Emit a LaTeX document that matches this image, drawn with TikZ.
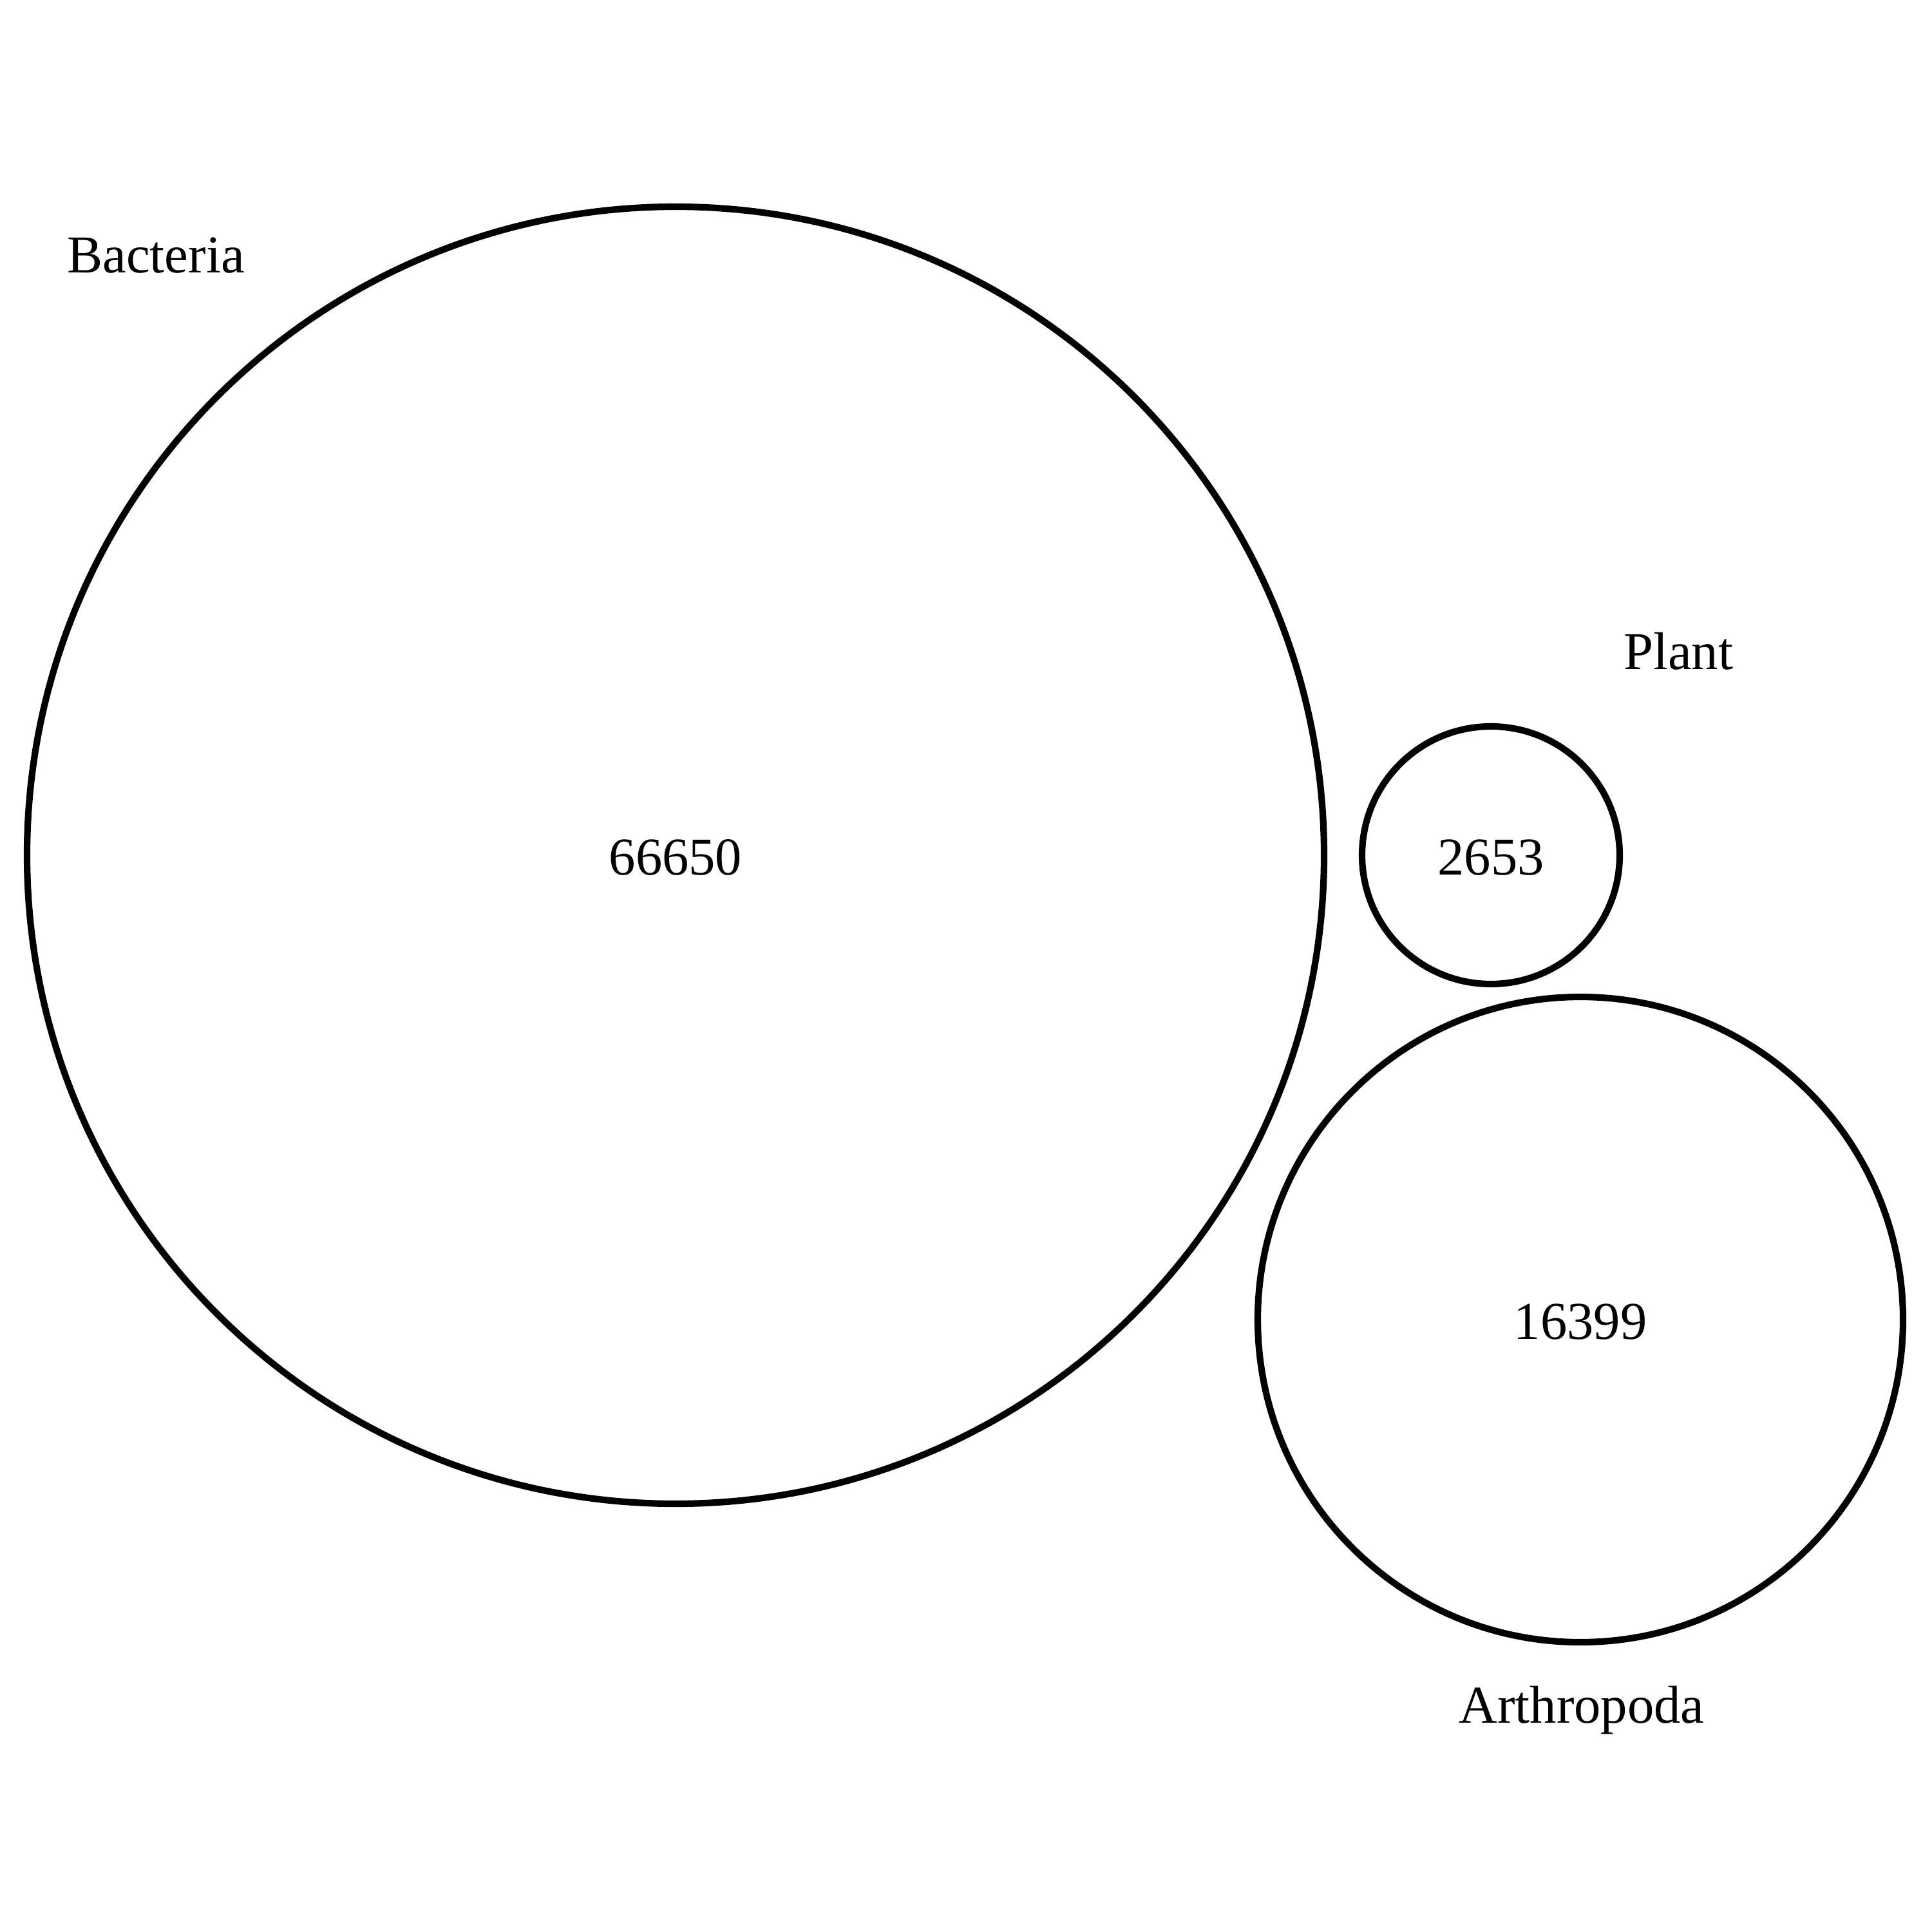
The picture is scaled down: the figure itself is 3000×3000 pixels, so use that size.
\documentclass[tikz,border=0pt]{standalone}
\usepackage{fontspec}
\setmainfont{Liberation Serif}
\begin{document}
\begin{tikzpicture}[x=0.01cm,y=-0.01cm,
  setcircle/.style={draw=black,line width=2.9pt,fill=none},
  lbl/.style={inner sep=0pt,anchor=base,font=\fontsize{23.5}{28}\selectfont}]
\useasboundingbox (0,0) rectangle (3000,3000);
\fill[white] (0,0) rectangle (3000,3000);
\draw[setcircle] (1049,1328) circle[radius=1007];
\draw[setcircle] (2315,1328) circle[radius=200];
\draw[setcircle] (2454,2049) circle[radius=501];
\node[lbl] (bact) at (242,423) {Bacteria};
\node[lbl] (plant) at (2606,1039) {Plant};
\node[lbl] (arth) at (2456,2675) {Arthropoda};
\node[lbl] (nb) at (1049,1358) {66650};
\node[lbl] (np) at (2315,1358) {2653};
\node[lbl] (na) at (2454,2079) {16399};
\end{tikzpicture}
\end{document}
